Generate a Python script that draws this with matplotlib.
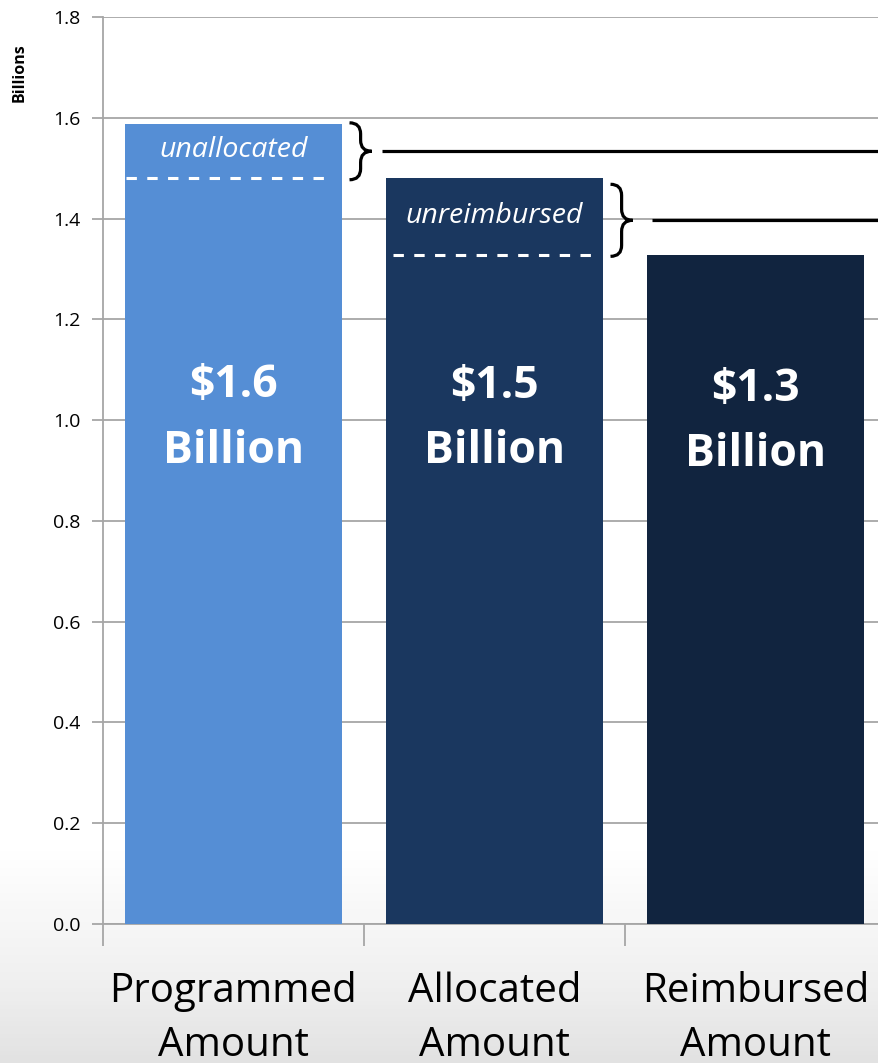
import numpy as np
import matplotlib.pyplot as plt
from matplotlib.path import Path
from matplotlib.patches import PathPatch

# data (billions)
categories = ["Programmed\nAmount", "Allocated\nAmount", "Reimbursed\nAmount"]
values = [1.588, 1.480, 1.328]
bar_labels = ["$1.6\nBillion", "$1.5\nBillion", "$1.3\nBillion"]
gap_labels = ["unallocated", "unreimbursed"]
colors = ["#558ed5", "#1a375f", "#11243f"]
yticks = [0.0, 0.2, 0.4, 0.6, 0.8, 1.0, 1.2, 1.4, 1.6, 1.8]

fig = plt.figure(figsize=(8.79, 10.63), dpi=100)

# light background gradient towards the bottom
bg = fig.add_axes([0, 0, 1, 1], zorder=-10)
t = np.linspace(0, 1, 256)
grad = np.clip((t - 0.80) / 0.20, 0, 1).reshape(-1, 1)
bg.imshow(grad, aspect="auto", cmap="Greys", vmin=0, vmax=5, extent=[0, 1, 0, 1], origin="upper")
bg.axis("off")

ax = fig.add_axes([103 / 879, 139 / 1063, 783 / 879, 907 / 1063])
ax.patch.set_alpha(0)

x = np.arange(len(values))
w = 0.835
ax.bar(x, values, width=w, color=colors, zorder=3)

ax.set_xlim(-0.5, 2.5)
ax.set_ylim(0, 1.8)
ax.set_yticks(yticks)
ax.set_yticklabels(["%.1f" % t for t in yticks], fontsize=14, family="Open Sans")
ax.yaxis.grid(True, color="#a6a6a6", lw=1.3, zorder=0)
ax.tick_params(axis="y", length=8, width=1.3, color="#a6a6a6", pad=8)

# x ticks on the category boundaries, labels centered
ax.set_xticks([-0.5, 0.5, 1.5, 2.5])
ax.set_xticklabels([])
ax.set_xticks(x, minor=True)
ax.set_xticklabels(categories, minor=True, fontsize=29, family="Open Sans", linespacing=1.45)
ax.tick_params(axis="x", which="major", length=16, width=1.3, color="#a6a6a6")
ax.tick_params(axis="x", which="minor", length=0, pad=34)

for s in ["top", "right"]:
    ax.spines[s].set_visible(False)
for s in ["left", "bottom"]:
    ax.spines[s].set_color("#a6a6a6")
    ax.spines[s].set_linewidth(1.3)

ax.text(-0.82, 1.69, "Billions", rotation=90, fontsize=11.5,
        fontweight="bold", family="Open Sans", ha="center", va="center")

# big labels inside bars
label_y = [1.003, 1.002, 0.996]
for i in range(len(values)):
    ax.text(x[i], label_y[i], bar_labels[i], color="white", fontsize=32,
            fontweight="bold", family="Open Sans", ha="center", va="center",
            linespacing=1.6, zorder=4)

def brace(ax, x0, y0, y1, bw, h):
    xm = x0 + bw / 2
    ym = (y0 + y1) / 2
    verts = [(x0, y1), (xm, y1), (xm, y1 - h), (xm, ym + h), (xm, ym), (x0 + bw, ym),
             (xm, ym), (xm, ym - h), (xm, y0 + h), (xm, y0), (x0, y0)]
    codes = [Path.MOVETO, Path.CURVE3, Path.CURVE3, Path.LINETO, Path.CURVE3, Path.CURVE3,
             Path.CURVE3, Path.CURVE3, Path.LINETO, Path.CURVE3, Path.CURVE3]
    ax.add_patch(PathPatch(Path(verts, codes), fill=False, lw=2.3, color="black",
                           zorder=5, capstyle="butt"))

# gaps between consecutive bars
dash_pad = [(0.005, 0.07), (0.027, 0.045)]
brace_top = [0.002, -0.012]
line_gap = [0.125, 0.16]
for i in range(2):
    top = values[i]
    low = values[i + 1]
    # dashed white line at the next bar's level
    ax.plot([x[i] - w / 2 + dash_pad[i][0], x[i] + w / 2 - dash_pad[i][1]], [low, low],
            color="white", lw=2.2, dashes=(3.4, 3.4), zorder=4)
    ax.text(x[i], (top + low) / 2 + 0.002, gap_labels[i], color="white", fontsize=20.5,
            style="italic", family="Open Sans", ha="center", va="center", zorder=4)
    bx = x[i] + w / 2 + 0.027
    y0 = low - 0.003
    y1 = top + brace_top[i]
    brace(ax, bx, y0, y1, 0.085, 0.022)
    ym = (y0 + y1) / 2
    ax.plot([bx + line_gap[i], 2.6], [ym, ym], color="black",
            lw=2.3, zorder=5, clip_on=False, solid_capstyle="butt")

fig.savefig("out.png", dpi=100)
